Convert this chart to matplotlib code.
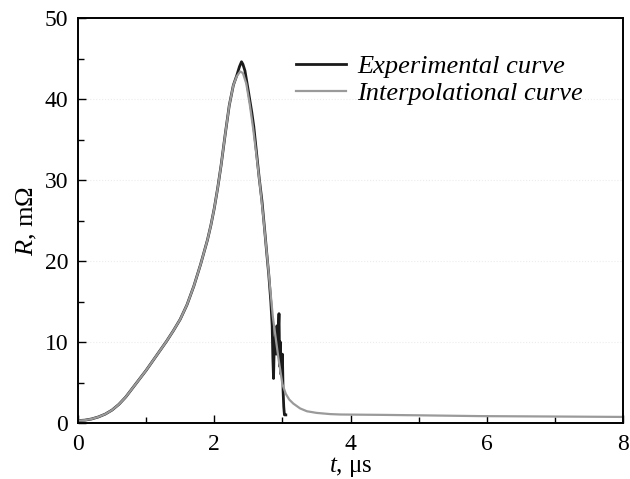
import numpy as np
import matplotlib
matplotlib.use("Agg")
import matplotlib.pyplot as plt
from matplotlib.ticker import MultipleLocator

plt.rcParams["font.family"] = ["Liberation Serif", "DejaVu Serif"]
plt.rcParams["mathtext.fontset"] = "custom"
plt.rcParams["mathtext.it"] = "Liberation Serif:italic"
plt.rcParams["mathtext.rm"] = "Liberation Serif"

# interpolational curve
t_interp = [0.0, 0.1, 0.2, 0.3, 0.4, 0.5, 0.6, 0.7, 0.8, 0.9, 1.0, 1.1, 1.2,
            1.3, 1.4, 1.5, 1.6, 1.7, 1.8, 1.9, 1.95, 2.0, 2.05, 2.1, 2.16,
            2.22, 2.28, 2.33, 2.38, 2.42, 2.47, 2.52, 2.57, 2.62, 2.67, 2.72,
            2.79, 2.86, 2.94, 3.0, 3.05, 3.1, 3.16, 3.26, 3.36, 3.5, 3.7, 3.85,
            4.5, 5.0, 5.9, 7.0, 8.0]
r_interp = [0.3, 0.35, 0.5, 0.75, 1.1, 1.6, 2.3, 3.2, 4.3, 5.4, 6.5, 7.7, 8.9,
            10.1, 11.4, 12.8, 14.6, 16.9, 19.6, 22.6, 24.4, 26.5, 29.0, 31.8, 35.6,
            39.2, 41.7, 42.8, 43.4, 43.2, 41.9, 39.4, 36.4, 33.0, 29.4, 25.4,
            19.3, 13.1, 8.1, 4.8, 3.6, 2.9, 2.4, 1.8, 1.45, 1.25, 1.1, 1.05,
            1.0, 0.95, 0.85, 0.8, 0.75]

# experimental curve: follows the fit on the rise, then peak and noisy fall
t_exp_tail = [2.33, 2.37, 2.4, 2.42,
              2.45, 2.5, 2.55, 2.58, 2.62, 2.66, 2.7, 2.74, 2.77, 2.8, 2.83, 2.85,
              2.86, 2.87, 2.88, 2.9, 2.91, 2.92, 2.93, 2.95, 2.96, 2.97, 2.98,
              3.0, 3.01, 3.02, 3.03, 3.05]
r_exp_tail = [42.9, 44.0, 44.6, 44.3,
              43.5, 41.0, 38.4, 36.6, 33.4, 30.2, 27.4, 23.8, 21.0, 18.3, 15.0, 12.0,
              8.0, 5.5, 9.5, 11.0, 8.5, 12.0, 9.0, 13.5, 7.0, 10.0, 6.0,
              8.5, 4.0, 2.0, 1.0, 1.0]
t_exp = t_interp[:27] + t_exp_tail
r_exp = r_interp[:27] + r_exp_tail

fig = plt.figure(figsize=(6.3, 4.79), dpi=100)
ax = fig.add_axes([0.1238, 0.1169, 0.8652, 0.8455])

for yv in [10, 20, 30, 40]:
    ax.axhline(yv, color="#ececec", lw=0.8, ls=":", zorder=0)

ax.plot(t_exp, r_exp, color="#1a1a1a", lw=2.0, label="Experimental curve")
ax.plot(t_interp, r_interp, color="#9a9a9a", lw=1.6, label="Interpolational curve")

ax.set_xlim(0, 8)
ax.set_ylim(0, 50)
ax.xaxis.set_major_locator(MultipleLocator(2))
ax.xaxis.set_minor_locator(MultipleLocator(1))
ax.yaxis.set_major_locator(MultipleLocator(10))
ax.yaxis.set_minor_locator(MultipleLocator(5))
ax.tick_params(which="both", direction="in", width=1.0, labelsize=17)
ax.tick_params(which="major", length=6)
ax.tick_params(which="minor", length=4.5)
ax.tick_params(axis="x", pad=8)
ax.tick_params(axis="y", pad=7)
for s in ax.spines.values():
    s.set_linewidth(1.4)

ax.set_xlabel(r"$t$, μs", fontsize=18, labelpad=0)
ax.set_ylabel(r"$R$, mΩ", fontsize=19, labelpad=4)

leg = ax.legend(loc="upper left", bbox_to_anchor=(0.375, 0.943), frameon=False,
                fontsize=19, handlelength=1.9, handletextpad=0.45,
                labelspacing=0.15, borderpad=0)
for txt in leg.get_texts():
    txt.set_style("italic")

plt.savefig("out.png", dpi=100)
